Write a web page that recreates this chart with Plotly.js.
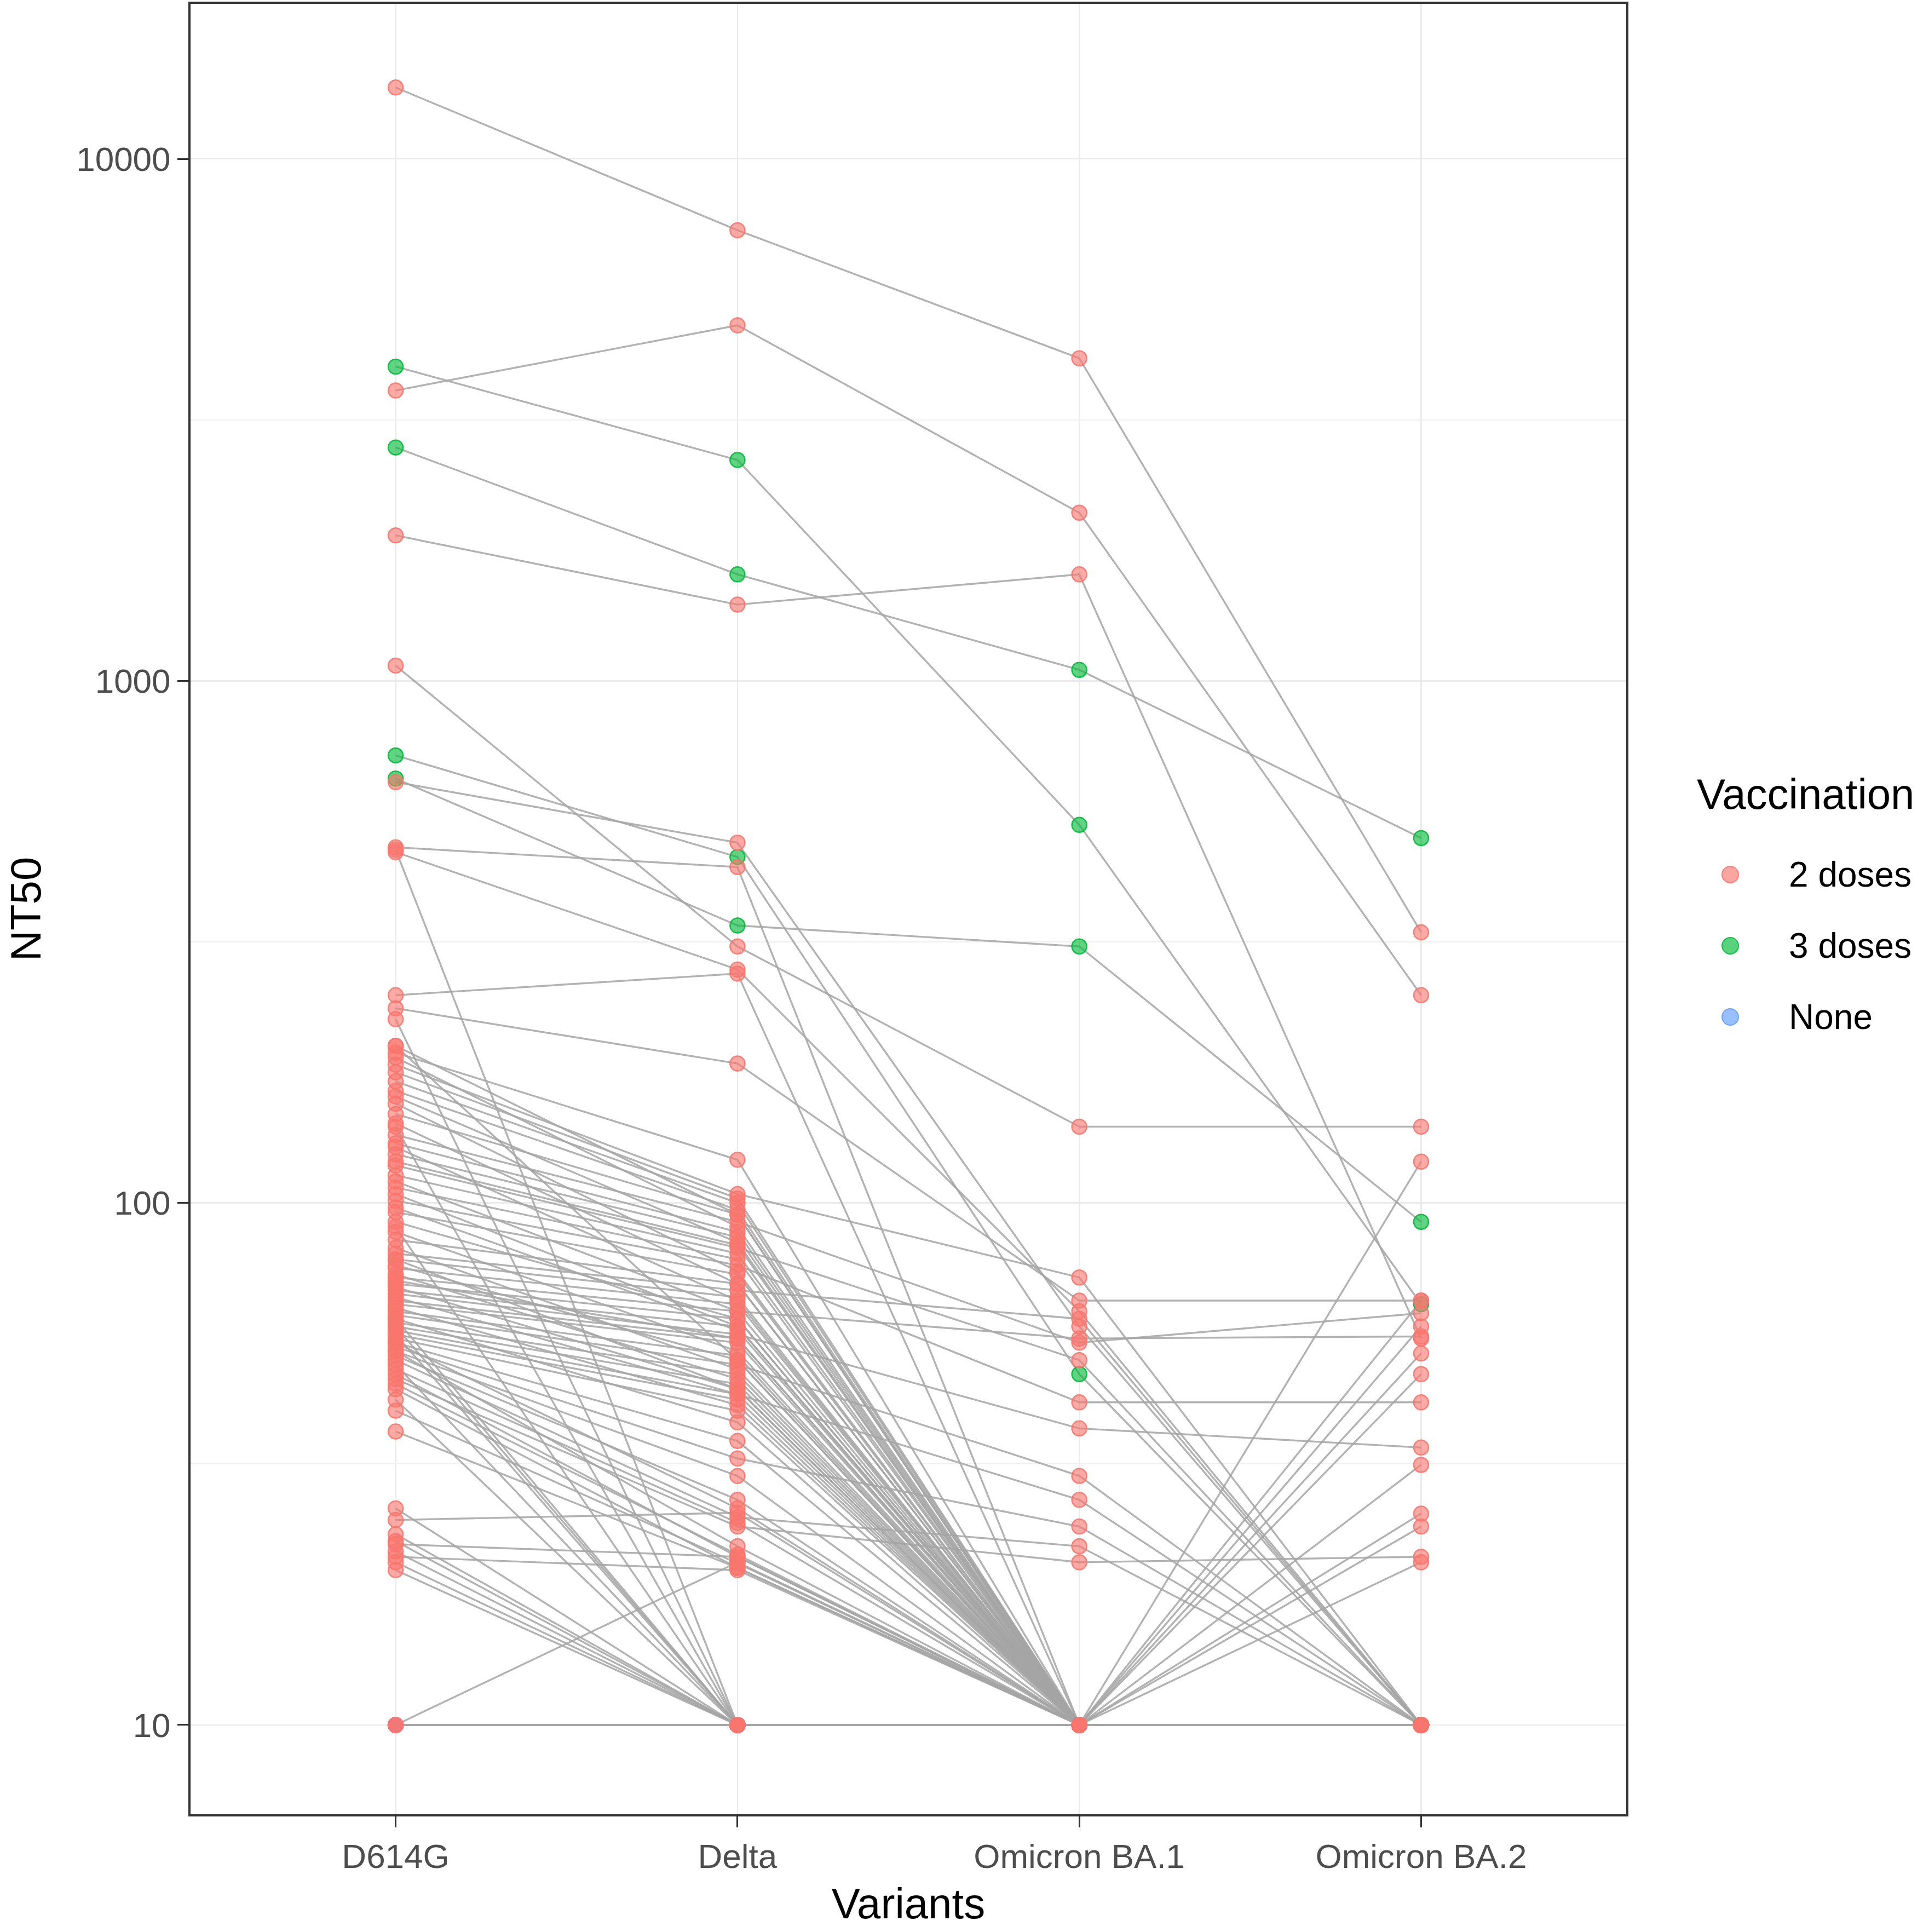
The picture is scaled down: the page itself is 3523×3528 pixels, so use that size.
<!DOCTYPE html>
<html><head><meta charset="utf-8">
<script src="https://cdn.plot.ly/plotly-3.0.1.min.js"></script>
<style>html,body{margin:0;padding:0;background:#fff}#chart{width:3523px;height:3528px}</style>
</head><body><div id="chart"></div>
<script>
// ---- data ----
const variants = ['D614G', 'Delta', 'Omicron BA.1', 'Omicron BA.2'];
const groups = ['2 doses', '3 doses', 'None'];
const groupColors = ['#F8766D', '#00BA38', '#619CFF'];

// one entry per subject
const vaccination = [
  '2 doses','2 doses','3 doses','3 doses','2 doses','2 doses','3 doses','3 doses','2 doses','2 doses',
  '2 doses','2 doses','2 doses','2 doses','2 doses','2 doses','2 doses','2 doses','2 doses','2 doses',
  '2 doses','2 doses','2 doses','2 doses','2 doses','2 doses','2 doses','2 doses','2 doses','2 doses',
  '2 doses','2 doses','2 doses','2 doses','2 doses','2 doses','2 doses','3 doses','2 doses','2 doses',
  '2 doses','2 doses','2 doses','2 doses','2 doses','2 doses','2 doses','2 doses','2 doses','2 doses',
  '2 doses','2 doses','2 doses','2 doses','2 doses','2 doses','2 doses','2 doses','2 doses','2 doses',
  '2 doses','2 doses','2 doses','2 doses','2 doses','None','None','2 doses','2 doses','2 doses',
  '2 doses','2 doses','2 doses','2 doses',
  '2 doses','2 doses','2 doses','2 doses','2 doses','2 doses','2 doses','2 doses','2 doses','2 doses',
  '2 doses','2 doses','2 doses','2 doses','2 doses','2 doses','2 doses','2 doses','2 doses','2 doses',
  '2 doses','2 doses','2 doses','2 doses','2 doses','2 doses','2 doses','2 doses','None','2 doses'
];
const nt50_D614G = [
  13700, 3600, 4000, 2800, 1900, 1070, 720, 650, 640, 480,
  470, 250, 236, 225, 194, 184, 171, 164, 148, 135,
  130, 124, 118, 113, 107, 101, 96, 85, 80, 78,
  75, 72, 70, 68, 67, 65, 64, 60, 62, 61,
  59, 58, 57, 56, 55, 54, 53, 52, 51, 50,
  48, 46, 45, 40, 36.5, 26, 24.7, 23.2, 22.5, 22.2,
  21.5, 21, 20.5, 19.8, 10, 10, 10, 10, 10, 90,
  140, 200, 78, 475,
  200, 190, 178, 160, 155, 142, 128, 120, 110, 104,
  98, 92, 88, 82, 76, 73, 71, 69, 66, 63,
  60, 58, 56, 54, 52, 49, 47, 44, 10, 42
];
const nt50_Delta = [
  7300, 4800, 2650, 1600, 1400, 310, 460, 340, 490, 440,
  280, 275, 185, 10, 121, 104, 100, 97, 95, 92,
  88, 86, 82, 80, 78, 76, 73, 70, 68, 66,
  64, 62, 60, 58, 56, 55, 54, 10, 51, 49,
  47, 45, 43, 42, 40, 35, 32.4, 30, 27, 25,
  24.4, 24, 21.2, 20.4, 20, 10, 25.5, 10, 10, 21,
  10, 19.8, 10, 10, 20.5, 10, 10, 10, 10, 10,
  10, 50, 44, 10,
  95, 90, 102, 84, 74, 70, 65, 83, 62, 58,
  57, 60, 52, 48, 50, 46, 55, 44, 43, 41,
  38, 10, 10, 26, 22, 10, 21, 20, 10, 10
];
const nt50_BA1 = [
  4150, 2100, 530, 1050, 1600, 140, 47, 310, 58, 10,
  62, 10, 65, 10, 10, 72, 10, 10, 10, 54,
  10, 10, 50, 10, 10, 41.5, 10, 10, 60, 10,
  10, 55, 10, 10, 37, 10, 10, 10, 10, 30,
  10, 10, 27, 10, 10, 10, 24, 10, 10, 22,
  10, 20.5, 10, 10, 10, 10, 10, 10, 10, 10,
  10, 10, 10, 10, 10, 10, 10, 10, 10, 10,
  10, 10, 10, 10,
  10, 10, 10, 10, 10, 10, 10, 10, 10, 10,
  10, 10, 10, 10, 10, 10, 10, 10, 10, 10,
  10, 10, 10, 10, 10, 10, 10, 10, 10, 10
];
const nt50_BA2 = [
  330, 250, 64, 500, 55, 140, 10, 92, 10, 10,
  10, 10, 65, 10, 10, 10, 10, 120, 10, 61.5,
  10, 10, 10, 58, 10, 41.5, 10, 10, 10, 51.5,
  10, 55.5, 10, 47, 34, 10, 10, 10, 10, 10,
  25.4, 10, 10, 10, 24, 10, 10, 10, 31.5, 10,
  10, 21, 10, 10, 10, 10, 10, 10, 10, 10,
  10, 20.5, 10, 10, 10, 10, 10, 10, 10, 10,
  10, 10, 65, 10,
  10, 10, 10, 10, 10, 10, 10, 10, 10, 10,
  10, 10, 10, 10, 10, 10, 10, 10, 10, 10,
  10, 10, 10, 10, 10, 10, 10, 10, 10, 10
];
const yTickVals = [10, 100, 1000, 10000];
const yTickText = ['10', '100', '1000', '10000'];
const yMinorVals = [31.62, 316.2, 3162];

// ---- geometry ----
const W = 3523, H = 3528;
const PL = 348, PR = 2970, PT = 7, PB = 3313;
const FONT = 'Liberation Sans, Arial, Helvetica, sans-serif';
const series = [nt50_D614G, nt50_Delta, nt50_BA1, nt50_BA2];

// subject lines
const lx = [], ly = [];
for (let i = 0; i < vaccination.length; i++) {
  for (let v = 0; v < variants.length; v++) { lx.push(variants[v]); ly.push(series[v][i]); }
  lx.push(null); ly.push(null);
}
const traces = [{
  type: 'scatter', mode: 'lines', x: lx, y: ly, connectgaps: false,
  line: {color: 'rgba(165,165,165,0.85)', width: 3.4}, hoverinfo: 'skip', showlegend: false
}];

function rgba(hex, a) {
  const n = parseInt(hex.slice(1), 16);
  return 'rgba(' + ((n >> 16) & 255) + ',' + ((n >> 8) & 255) + ',' + (n & 255) + ',' + a + ')';
}
// draw order: None, 3 doses, 2 doses
[2, 1, 0].forEach(g => {
  const px = [], py = [];
  for (let i = 0; i < vaccination.length; i++) {
    if (vaccination[i] !== groups[g]) continue;
    for (let v = 0; v < variants.length; v++) { px.push(variants[v]); py.push(series[v][i]); }
  }
  traces.push({
    type: 'scatter', mode: 'markers', name: groups[g], x: px, y: py, showlegend: false,
    marker: {size: 27, color: rgba(groupColors[g], 0.62), line: {color: rgba(groupColors[g], 0.9), width: 2.5}}
  });
});

// manual legend (ggplot style)
const pw = PR - PL, ph = PB - PT;
const xp = px => (px - PL) / pw;
const yp = py => 1 - (py - PT) / ph;
const annotations = [{
  xref: 'paper', yref: 'paper', x: xp(3097), y: yp(1450), xanchor: 'left', yanchor: 'middle',
  text: 'Vaccination', showarrow: false, font: {family: FONT, size: 78, color: '#000000'}
}];
const shapes = [];
const rowY = [1597, 1727, 1857];
groups.forEach((g, k) => {
  annotations.push({
    xref: 'paper', yref: 'paper', x: xp(3265), y: yp(rowY[k]), xanchor: 'left', yanchor: 'middle',
    text: g, showarrow: false, font: {family: FONT, size: 64, color: '#000000'}
  });
  shapes.push({
    type: 'circle', xref: 'paper', yref: 'paper', xsizemode: 'pixel', ysizemode: 'pixel',
    xanchor: xp(3160), yanchor: yp(rowY[k]), x0: -15, x1: 15, y0: -15, y1: 15,
    fillcolor: rgba(groupColors[k], 0.65), line: {color: rgba(groupColors[k], 0.9), width: 2}, layer: 'above'
  });
});

const layout = {
  width: W, height: H,
  margin: {l: PL, r: W - PR, t: PT, b: H - PB, pad: 0},
  paper_bgcolor: '#FFFFFF', plot_bgcolor: '#FFFFFF',
  font: {family: FONT, color: '#000000'},
  showlegend: false,
  xaxis: {
    type: 'category', categoryorder: 'array', categoryarray: variants, range: [-0.6, 3.6],
    showgrid: true, gridcolor: '#EBEBEB', gridwidth: 2.5, zeroline: false,
    showline: true, linecolor: '#333333', linewidth: 4, mirror: true,
    ticks: 'outside', ticklen: 20, tickwidth: 3, tickcolor: '#333333',
    tickfont: {family: FONT, size: 62, color: '#4D4D4D'},
    title: {text: 'Variants', font: {family: FONT, size: 78, color: '#000000'}, standoff: 26},
    automargin: false, fixedrange: true
  },
  yaxis: {
    type: 'log', range: [0.829, 4.297],
    tickmode: 'array', tickvals: yTickVals, ticktext: yTickText,
    showgrid: true, gridcolor: '#EBEBEB', gridwidth: 2.5, zeroline: false,
    minor: {tickmode: 'array', tickvals: yMinorVals, showgrid: true, gridcolor: '#EFEFEF', gridwidth: 2, ticks: '', ticklen: 0},
    showline: true, linecolor: '#333333', linewidth: 4, mirror: true,
    ticks: 'outside', ticklen: 20, tickwidth: 3, tickcolor: '#333333',
    tickfont: {family: FONT, size: 62, color: '#4D4D4D'},
    title: {text: 'NT50', font: {family: FONT, size: 78, color: '#000000'}, standoff: 40},
    automargin: false, fixedrange: true
  },
  annotations: annotations,
  shapes: shapes
};

Plotly.newPlot('chart', traces, layout, {staticPlot: true, displayModeBar: false});
</script></body></html>
